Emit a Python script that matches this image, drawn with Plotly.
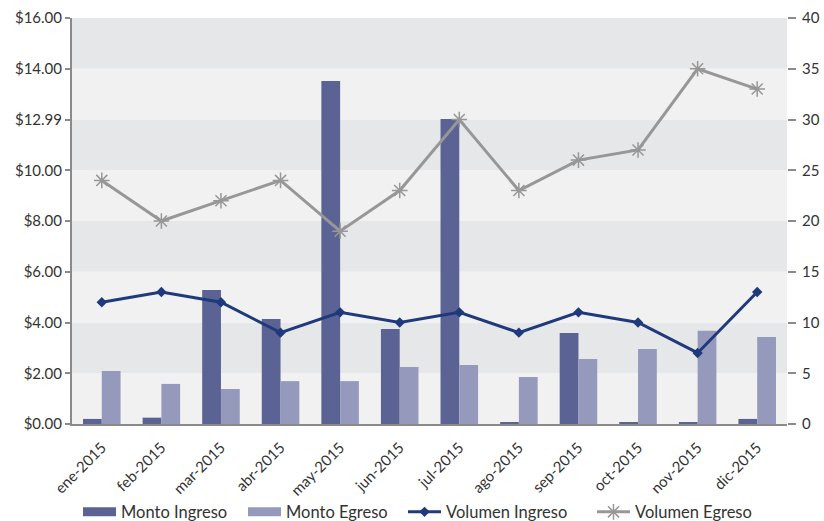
import plotly.graph_objects as go

meses = ["ene-2015", "feb-2015", "mar-2015", "abr-2015", "may-2015", "jun-2015",
         "jul-2015", "ago-2015", "sep-2015", "oct-2015", "nov-2015", "dic-2015"]
monto_ingreso = [0.20, 0.25, 5.28, 4.14, 13.52, 3.74, 12.02, 0.08, 3.59, 0.08, 0.05, 0.20]
monto_egreso = [2.09, 1.58, 1.38, 1.69, 1.69, 2.25, 2.33, 1.85, 2.56, 2.96, 3.67, 3.43]
volumen_ingreso = [12, 13, 12, 9, 11, 10, 11, 9, 11, 10, 7, 13]
volumen_egreso = [24, 20, 22, 24, 19, 23, 30, 23, 26, 27, 35, 33]

y_ticks = [0, 2, 4, 6, 8, 10, 12, 14, 16]
y_ticktext = ["$0.00", "$2.00", "$4.00", "$6.00", "$8.00", "$10.00", "$12.99", "$14.00", "$16.00"]
y2_ticks = [0, 5, 10, 15, 20, 25, 30, 35, 40]

FONT = "Lato, 'Open Sans', sans-serif"
C_ING = "#5b6394"
C_EGR = "#9599bb"
C_VING = "#1f3a7c"
C_VEGR = "#979797"

fig = go.Figure()
fig.add_trace(go.Bar(x=meses, y=monto_ingreso, name="Monto Ingreso", showlegend=False,
                     legendgroup="mi", marker=dict(color=C_ING, line=dict(width=0))))
fig.add_trace(go.Bar(x=meses, y=monto_egreso, name="Monto Egreso", showlegend=False,
                     legendgroup="me", marker=dict(color=C_EGR, line=dict(width=0))))

# flat wide legend swatches for the two bar series
fig.add_trace(go.Scatter(x=[meses[0]], y=[None], name="Monto Ingreso", legendgroup="mi",
                         mode="lines", line=dict(color=C_ING, width=9), legendwidth=117))
fig.add_trace(go.Scatter(x=[meses[0]], y=[None], name="Monto Egreso", legendgroup="me",
                         mode="lines", line=dict(color=C_EGR, width=9), legendwidth=112))

fig.add_trace(go.Scatter(x=meses, y=volumen_ingreso, name="Volumen Ingreso", yaxis="y2",
                         mode="lines+markers", legendwidth=141,
                         line=dict(color=C_VING, width=3),
                         marker=dict(symbol="diamond", size=8, color=C_VING)))
fig.add_trace(go.Scatter(x=meses, y=volumen_egreso, name="Volumen Egreso", yaxis="y2",
                         mode="lines+markers",
                         line=dict(color=C_VEGR, width=3),
                         marker=dict(symbol="asterisk-open", size=13,
                                     line=dict(color=C_VEGR, width=1.5))))

# alternating horizontal bands behind the plot
shapes = []
for i in range(8):
    shapes.append(dict(type="rect", xref="paper", yref="y", x0=0, x1=1,
                       y0=2 * i, y1=2 * i + 2, layer="below", line=dict(width=0),
                       fillcolor="#e6e7e9" if i % 2 == 1 else "#f1f1f1"))

fig.update_layout(
    width=824, height=521,
    margin=dict(l=72, r=37, t=18, b=97, autoexpand=False),
    paper_bgcolor="white", plot_bgcolor="white",
    font=dict(family=FONT, size=14, color="#333333"),
    barmode="group", bargap=0.37, bargroupgap=0,
    shapes=shapes,
    showlegend=True,
    legend=dict(orientation="h", x=0.0084, xanchor="left", y=-0.217, yanchor="middle",
                bgcolor="rgba(0,0,0,0)",
                font=dict(size=16.5, color="#333333"), itemwidth=33,
                traceorder="normal"),
    xaxis=dict(type="category", range=[-0.5, 11.5], tickangle=-45,
               tickfont=dict(size=15), ticklabelstandoff=7,
               showline=True, linecolor="#8a8a8a", linewidth=2,
               showgrid=False, ticks="", zeroline=False, automargin=False),
    yaxis=dict(range=[0, 16], tickvals=y_ticks, ticktext=y_ticktext,
               showline=True, linecolor="#8a8a8a", linewidth=2,
               ticks="outside", ticklen=5, tickcolor="#8a8a8a", tickwidth=1.5,
               showgrid=False, zeroline=False, tickfont=dict(size=15),
               automargin=False),
    yaxis2=dict(range=[0, 40], tickvals=y2_ticks, overlaying="y", side="right",
                showline=False, ticks="outside", ticklen=8, tickcolor="#8a8a8a",
                tickwidth=1.5, showgrid=False, zeroline=False, ticklabelstandoff=3,
                tickfont=dict(size=15), automargin=False),
)

fig.write_html("out.html")
